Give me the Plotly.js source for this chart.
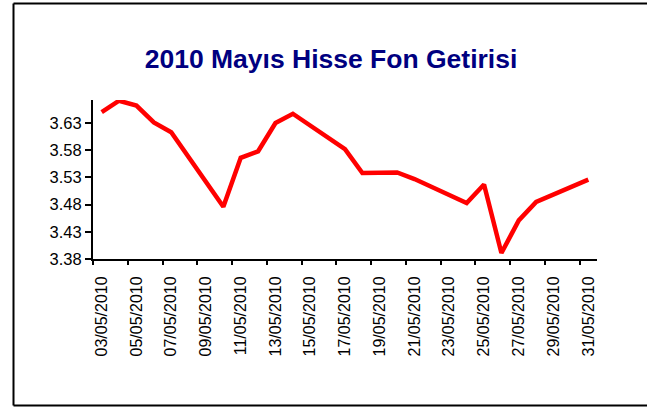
<!DOCTYPE html>
<html>
<head>
<meta charset="utf-8">
<script src="https://cdn.plot.ly/plotly-3.0.1.min.js"></script>
<style>html,body{margin:0;padding:0;background:#fff;}#chart{width:647px;height:407px;}</style>
</head>
<body>
<div id="chart"></div>
<script>
const chartTitle = "2010 Mayıs Hisse Fon Getirisi";
const dates = ["2010-05-03","2010-05-04","2010-05-05","2010-05-06","2010-05-07",
  "2010-05-10","2010-05-11","2010-05-12","2010-05-13","2010-05-14",
  "2010-05-17","2010-05-18","2010-05-20","2010-05-21","2010-05-24",
  "2010-05-25","2010-05-26","2010-05-27","2010-05-28","2010-05-31"];
const values = [3.650, 3.671, 3.662, 3.631, 3.613,
  3.476, 3.566, 3.578, 3.630, 3.647,
  3.582, 3.538, 3.539, 3.527, 3.483,
  3.517, 3.391, 3.451, 3.485, 3.526];
const yTicks = [3.38, 3.43, 3.48, 3.53, 3.58, 3.63];

// points sit in the middle of each day slot (Excel date axis)
const xMid = dates.map(d => d + " 12:00");

const L = 93, R = 50, T = 100, B = 148, W = 647, H = 407;
const pw = W - L - R, ph = H - T - B;
const px = X => (X - L) / pw;
const py = Y => (H - B - Y) / ph;

const trace = {
  x: xMid, y: values, type: "scatter", mode: "lines",
  line: {color: "#FF0000", width: 4.5},
  hoverinfo: "skip", cliponaxis: false
};
// empty helper trace so the tick-mark axis (x2) is drawn
const tickHelper = {
  x: [], y: [], type: "scatter", mode: "lines",
  xaxis: "x2", yaxis: "y", hoverinfo: "skip", showlegend: false
};

const fam = "Liberation Sans, Arial, sans-serif";
const xRange = ["2010-05-03", "2010-06-01"];

const frame = {color: "#000", width: 2};
const layout = {
  width: W, height: H,
  margin: {l: L, r: R, t: T, b: B, pad: 0},
  paper_bgcolor: "#fff", plot_bgcolor: "#fff",
  showlegend: false,
  title: {
    text: chartTitle,
    font: {family: fam, size: 26.5, color: "#000080", weight: "bold"},
    xref: "container", yref: "container",
    x: 331 / W, xanchor: "center",
    y: 1 - 59 / H, yanchor: "middle"
  },
  // labels at day centres
  xaxis: {
    type: "date",
    range: xRange,
    tick0: "2010-05-03 12:00", dtick: 2 * 86400000,
    tickformat: "%d/%m/%Y",
    tickangle: -90,
    ticks: "outside", ticklen: 5, tickcolor: "rgba(0,0,0,0)",
    ticklabelstandoff: 4,
    showline: true, linecolor: "#000", linewidth: 2,
    showgrid: false, zeroline: false,
    tickfont: {family: fam, size: 16, color: "#000"},
    fixedrange: true
  },
  // tick marks at day boundaries
  xaxis2: {
    type: "date",
    range: xRange,
    overlaying: "x", anchor: "y", side: "bottom",
    tick0: "2010-05-03", dtick: 2 * 86400000,
    ticks: "outside", ticklen: 5, tickwidth: 2, tickcolor: "#000",
    showticklabels: false,
    showline: false, showgrid: false, zeroline: false,
    fixedrange: true
  },
  yaxis: {
    range: [3.38, 3.6723],
    tickmode: "array", tickvals: yTicks, ticktext: yTicks.map(v => v.toFixed(2)),
    ticks: "outside", ticklen: 6, tickwidth: 2, tickcolor: "#000",
    showline: true, linecolor: "#000", linewidth: 2,
    showgrid: false, zeroline: false,
    tickfont: {family: fam, size: 16.5, color: "#000"},
    fixedrange: true
  },
  shapes: [
    {type: "line", xref: "paper", yref: "paper", x0: px(13.5), x1: px(13.5), y0: py(405.5), y1: py(3.5), line: frame},
    {type: "line", xref: "paper", yref: "paper", x0: px(13.5), x1: px(700), y0: py(3.5), y1: py(3.5), line: frame},
    {type: "line", xref: "paper", yref: "paper", x0: px(13.5), x1: px(700), y0: py(405.5), y1: py(405.5), line: frame}
  ]
};

Plotly.newPlot("chart", [trace, tickHelper], layout, {staticPlot: true, displayModeBar: false});
</script>
</body>
</html>
